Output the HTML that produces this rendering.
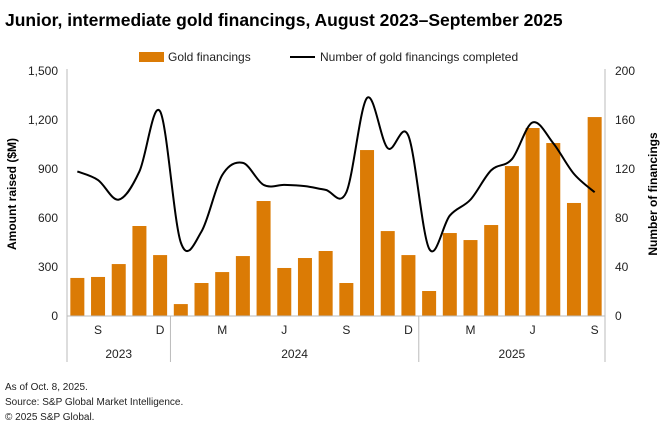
<!DOCTYPE html>
<html><head><meta charset="utf-8"><style>
body{margin:0;background:#fff;font-family:"Liberation Sans",sans-serif;}
svg text{font-family:"Liberation Sans",sans-serif;}
</style></head><body>
<svg id="c" width="660" height="435" xmlns="http://www.w3.org/2000/svg">
<text x="5" y="26" font-size="17.5" font-weight="bold" fill="#000">Junior, intermediate gold financings, August 2023–September 2025</text>
<g>
<rect x="139" y="52" width="25" height="10" fill="#db7b05"/>
<text x="168" y="61" font-size="12" fill="#222">Gold financings</text>
<line x1="290" y1="57" x2="315" y2="57" stroke="#000" stroke-width="2"/>
<text x="320" y="61" font-size="12" fill="#222">Number of gold financings completed</text>
</g>
<text transform="translate(16,194) rotate(-90)" text-anchor="middle" font-size="12" font-weight="bold">Amount raised ($M)</text>
<text transform="translate(657,194) rotate(-90)" text-anchor="middle" font-size="12" font-weight="bold">Number of financings</text>
<g id="g"></g>
<text x="5" y="390" font-size="10" fill="#222">As of Oct. 8, 2025.</text>
<text x="5" y="405" font-size="10" fill="#222">Source: S&amp;P Global Market Intelligence.</text>
<text x="5" y="420" font-size="10" fill="#222">© 2025 S&amp;P Global.</text>
</svg>
<script>
const months=["Aug 2023","Sep 2023","Oct 2023","Nov 2023","Dec 2023","Jan 2024","Feb 2024","Mar 2024","Apr 2024","May 2024","Jun 2024","Jul 2024","Aug 2024","Sep 2024","Oct 2024","Nov 2024","Dec 2024","Jan 2025","Feb 2025","Mar 2025","Apr 2025","May 2025","Jun 2025","Jul 2025","Aug 2025","Sep 2025"];
const amounts=[233,239,318,551,373,73,202,269,367,704,294,355,398,202,1016,520,373,153,508,465,557,918,1151,1059,692,1218];
const counts=[118,111,95,118,167,60,69,115,125,107,107,106,103,101,178,137,147,55,82,95,119,128,158,141,116,101];
const leftTicks=[0,300,600,900,1200,1500];
const rightTicks=[0,40,80,120,160,200];
const monthLabels=[[1,"S"],[4,"D"],[7,"M"],[10,"J"],[13,"S"],[16,"D"],[19,"M"],[22,"J"],[25,"S"]];
const years=[[0,4,"2023"],[5,16,"2024"],[17,25,"2025"]];
const NS="http://www.w3.org/2000/svg",g=document.getElementById('g');
const X0=67,X1=605,Y0=316,Y1=71,slot=(X1-X0)/months.length;
const xc=i=>X0+slot*(i+0.5), yL=v=>Y0-(v/1500)*(Y0-Y1), yR=v=>Y0-(v/200)*(Y0-Y1);
function mk(t,a){const e=document.createElementNS(NS,t);for(const k in a)e.setAttribute(k,a[k]);g.appendChild(e);return e;}
leftTicks.forEach(v=>{const t=mk('text',{x:X0-9,y:yL(v)+4,'text-anchor':'end','font-size':12,fill:'#222'});t.textContent=v.toLocaleString('en-US');

});
rightTicks.forEach(v=>{const t=mk('text',{x:X1+10,y:yR(v)+4,'font-size':12,fill:'#222'});t.textContent=v;

});
let a=mk('line',{x1:X0,y1:Y1-2,x2:X0,y2:362,stroke:'#bbb'});


a=mk('line',{x1:X1,y1:Y1-2,x2:X1,y2:362,stroke:'#bbb'});


amounts.forEach((v,i)=>{const r=mk('rect',{x:xc(i)-7,y:yL(v),width:14,height:Y0-yL(v),fill:'#db7b05'});

});
a=mk('line',{x1:X0,y1:Y0,x2:X1,y2:Y0,stroke:'#bbb'});


const pts=counts.map((v,i)=>[xc(i),yR(v)]);
let d='M'+pts[0].join(',');
for(let i=0;i<pts.length-1;i++){const p0=pts[Math.max(0,i-1)],p1=pts[i],p2=pts[i+1],p3=pts[Math.min(pts.length-1,i+2)];
d+=` C${p1[0]+(p2[0]-p0[0])/6},${p1[1]+(p2[1]-p0[1])/6} ${p2[0]-(p3[0]-p1[0])/6},${p2[1]-(p3[1]-p1[1])/6} ${p2[0]},${p2[1]}`;}
const ln=mk('path',{d:d,fill:'none',stroke:'#000','stroke-width':2});


monthLabels.forEach(([i,s])=>{const t=mk('text',{x:xc(i),y:334,'text-anchor':'middle','font-size':12,fill:'#222'});t.textContent=s;

});
years.forEach(([s,e,l],k)=>{const t=mk('text',{x:(xc(s)+xc(e))/2,y:358,'text-anchor':'middle','font-size':12,fill:'#222'});t.textContent=l;


if(k>0){const sep=mk('line',{x1:X0+slot*s,y1:Y0,x2:X0+slot*s,y2:362,stroke:'#bbb'});

}});
</script>
</body></html>
